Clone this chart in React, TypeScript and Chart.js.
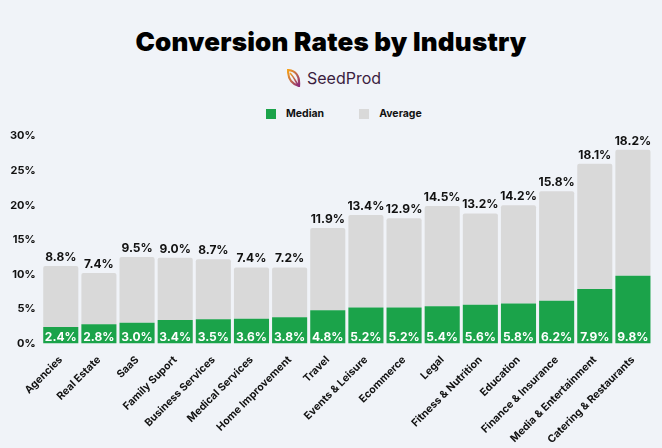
import React, { useEffect, useRef } from "react";
import { Chart, registerables } from "chart.js";

Chart.register(...registerables);

const categories = [
  "Agencies", "Real Estate", "SaaS", "Family Suport", "Business Services",
  "Medical Services", "Home Improvement", "Travel", "Events & Leisure", "Ecommerce",
  "Legal", "Fitness & Nutrition", "Education", "Finance & Insurance",
  "Media & Entertainment", "Catering & Restaurants",
];
const median = [2.4, 2.8, 3.0, 3.4, 3.5, 3.6, 3.8, 4.8, 5.2, 5.2, 5.4, 5.6, 5.8, 6.2, 7.9, 9.8];
const average = [8.8, 7.4, 9.5, 9.0, 8.7, 7.4, 7.2, 11.9, 13.4, 12.9, 14.5, 13.2, 14.2, 15.8, 18.1, 18.2];
const yTicks = [0, 5, 10, 15, 20, 25, 30];

const GREEN = "#1ba34a";
const GREY = "#d9d9d9";
const BG = "#f0f3f8";
const FONT = "Inter, 'Noto Sans', sans-serif";

const labelPlugin = {
  id: "valueLabels",
  afterDatasetsDraw(chart: any) {
    const ctx = chart.ctx;
    const m0 = chart.getDatasetMeta(0);
    const m1 = chart.getDatasetMeta(1);
    ctx.save();
    ctx.font = `700 12px ${FONT}`;
    ctx.textAlign = "center";
    ctx.textBaseline = "alphabetic";
    m0.data.forEach((bar: any, i: number) => {
      ctx.fillStyle = "#ffffff";
      ctx.fillText(median[i].toFixed(1) + "%", bar.x, bar.base - 3);
      const top = m1.data[i];
      ctx.fillStyle = "#111111";
      ctx.fillText(average[i].toFixed(1) + "%", top.x, top.y - 5);
    });
    ctx.restore();
  },
};

export default function App() {
  const ref = useRef<HTMLCanvasElement>(null);
  useEffect(() => {
    const chart = new Chart(ref.current!, {
      type: "bar",
      data: {
        labels: categories,
        datasets: [
          {
            label: "Median",
            data: median,
            backgroundColor: GREEN,
            barPercentage: 0.92,
            categoryPercentage: 1,
            borderSkipped: false,
          },
          {
            label: "Average",
            data: average,
            backgroundColor: GREY,
            barPercentage: 0.92,
            categoryPercentage: 1,
            borderRadius: { topLeft: 2, topRight: 2, bottomLeft: 0, bottomRight: 0 },
            borderSkipped: false,
          },
        ],
      },
      options: {
        animation: false,
        responsive: false,
        maintainAspectRatio: false,
        layout: { padding: { left: 4, right: 10, top: 16, bottom: 0 } },
        plugins: {
          legend: { display: false },
          tooltip: { enabled: false },
        },
        scales: {
          x: {
            stacked: true,
            grid: { display: false },
            border: { display: false },
            afterFit: (s: any) => {
              s.paddingLeft = 0;
              s.paddingRight = 0;
            },
            ticks: {
              color: "#111",
              font: { family: FONT, size: 10.5, weight: "bold" },
              minRotation: 45,
              maxRotation: 45,
              autoSkip: false,
              padding: 2,
            },
          },
          y: {
            stacked: true,
            min: 0,
            max: 30,
            grid: { display: false, drawTicks: false },
            border: { display: false },
            afterBuildTicks: (axis: any) => {
              axis.ticks = yTicks.map((v) => ({ value: v }));
            },
            ticks: {
              color: "#111",
              font: { family: FONT, size: 11, weight: "bold" },
              padding: 6,
              callback: (v: any) => v + "%",
            },
          },
        },
      },
      plugins: [labelPlugin],
    });
    return () => chart.destroy();
  }, []);

  return (
    <div style={{ position: "fixed", left: 0, top: 0, width: 662, height: 448, background: BG, overflow: "hidden", fontFamily: FONT }}>
      <div style={{ position: "absolute", top: 24, left: 0, width: 662, textAlign: "center", fontSize: 26, fontWeight: 900, color: "#000", lineHeight: "36px", letterSpacing: 0.2 }}>
        Conversion Rates by Industry
      </div>
      <div style={{ position: "absolute", top: 68, left: 287, display: "flex", alignItems: "center", gap: 6 }}>
        <svg width="14" height="18" viewBox="0 0 14 18">
          <defs>
            <linearGradient id="lg" x1="0" y1="0" x2="1" y2="1">
              <stop offset="0" stopColor="#f6a21b" />
              <stop offset="1" stopColor="#8a2a7a" />
            </linearGradient>
          </defs>
          <path d="M1 1 C9 2 13 6 12 17 C5 15 1 11 1 1 Z" fill="none" stroke="url(#lg)" strokeWidth="2.2" />
          <path d="M3 4 C6 7 8 11 11 16" fill="none" stroke="url(#lg)" strokeWidth="1.6" />
        </svg>
        <span style={{ fontSize: 16, fontWeight: 400, color: "#3b1d3f" }}>SeedProd</span>
      </div>
      <div style={{ position: "absolute", top: 107, left: 266, display: "flex", alignItems: "center", fontSize: 10.5, fontWeight: 700, color: "#111" }}>
        <span style={{ width: 10, height: 10, background: GREEN, display: "inline-block", marginRight: 10 }} />
        <span style={{ marginRight: 35 }}>Median</span>
        <span style={{ width: 10, height: 10, background: GREY, display: "inline-block", marginRight: 10 }} />
        <span>Average</span>
      </div>
      <canvas ref={ref} width={662} height={328} style={{ position: "absolute", left: 0, top: 120, width: 662, height: 328 }} />
    </div>
  );
}
